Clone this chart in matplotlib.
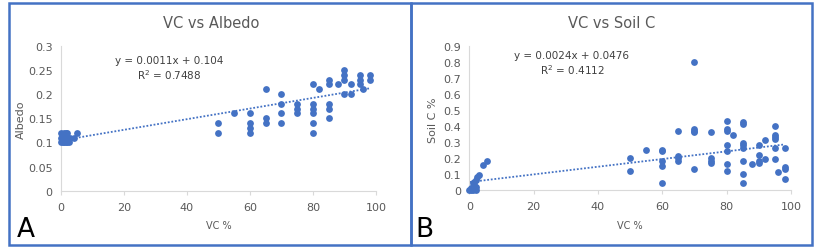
import numpy as np
import matplotlib.pyplot as plt
from matplotlib.patches import Rectangle

# Panel A: VC % vs Albedo
vc_a = [0, 0, 0, 0.5, 0.5, 1, 1, 1, 1.5, 1.5, 2, 2, 2, 2.5, 3, 4, 5,
        50, 50, 55, 60, 60, 60, 60, 65, 65, 65, 70, 70, 70, 70,
        75, 75, 75, 80, 80, 80, 80, 80, 80, 82, 85, 85, 85, 85, 85, 88,
        90, 90, 90, 90, 92, 92, 95, 95, 95, 96, 98, 98]
albedo = [0.10, 0.11, 0.12, 0.10, 0.115, 0.10, 0.11, 0.12, 0.10, 0.12, 0.10, 0.11, 0.12, 0.10, 0.11, 0.11, 0.12,
          0.14, 0.12, 0.16, 0.16, 0.14, 0.13, 0.12, 0.21, 0.15, 0.14, 0.20, 0.18, 0.16, 0.14,
          0.18, 0.17, 0.16, 0.22, 0.18, 0.17, 0.16, 0.14, 0.12, 0.21, 0.23, 0.22, 0.18, 0.17, 0.15, 0.22,
          0.25, 0.24, 0.23, 0.20, 0.22, 0.20, 0.24, 0.23, 0.22, 0.21, 0.24, 0.23]
slope_a, icpt_a = 0.0011, 0.104

# Panel B: VC % vs Soil C %
vc_b = [0, 0.5, 0.5, 1, 1, 1, 1.5, 1.5, 2, 2, 2, 2.5, 3, 4.4, 5.4,
        50, 50, 55, 60, 60, 60, 60, 60, 65, 65, 65, 65,
        70, 70, 70, 70, 70, 75, 75, 75, 75,
        80, 80, 80, 80, 80, 80, 80, 82,
        85, 85, 85, 85, 85, 85, 85, 85, 88,
        90, 90, 90, 90, 92, 92,
        95, 95, 95, 95, 95, 95, 96, 98, 98, 98, 98]
soil_c = [0.0, 0.01, 0.0, 0.0, 0.02, 0.04, 0.03, 0.05, 0.06, 0.0, 0.02, 0.08, 0.09, 0.155, 0.177,
          0.20, 0.12, 0.25, 0.25, 0.24, 0.18, 0.15, 0.04, 0.37, 0.21, 0.20, 0.18,
          0.80, 0.38, 0.37, 0.36, 0.13, 0.36, 0.20, 0.18, 0.17,
          0.43, 0.38, 0.37, 0.28, 0.24, 0.16, 0.12, 0.34,
          0.42, 0.41, 0.29, 0.28, 0.26, 0.18, 0.10, 0.04, 0.16,
          0.28, 0.22, 0.18, 0.17, 0.31, 0.19,
          0.40, 0.34, 0.33, 0.32, 0.26, 0.19, 0.11, 0.26, 0.14, 0.13, 0.07]
slope_b, icpt_b = 0.0024, 0.0476

blue = '#4472C4'
gray_txt = '#595959'
axis_col = '#d9d9d9'

fig = plt.figure(figsize=(8.2, 2.51), dpi=100)

# panel frames
for x0, x1 in [(9, 411.5), (411.5, 812)]:
    fig.patches.append(Rectangle((x0 / 820, 1 - 245.5 / 251), (x1 - x0) / 820, (245.5 - 4) / 251,
                                 transform=fig.transFigure, fill=False, edgecolor=blue, lw=1.8))


def panel(rect, x, y, slope, icpt, ymax, ystep, title, ylabel, eq, r2, eq_pos, title_x, ylab_x):
    ax = fig.add_axes(rect)
    ax.scatter(x, y, s=24, color=blue, zorder=3, linewidths=0, clip_on=False)
    xs = np.array([0, 98])
    ax.plot(xs, slope * xs + icpt, color=blue, ls=(0, (1, 1)), lw=1.3, zorder=2)
    ax.set_xlim(0, 100)
    ax.set_ylim(0, ymax)
    ax.set_xticks(np.arange(0, 101, 20))
    yt = np.round(np.arange(0, ymax + 1e-9, ystep), 2)
    ax.set_yticks(yt)
    ax.set_yticklabels(['0' if v == 0 else f'{v:g}' for v in yt])
    for s in ['top', 'right']:
        ax.spines[s].set_visible(False)
    for s in ['left', 'bottom']:
        ax.spines[s].set_color(axis_col)
        ax.spines[s].set_linewidth(0.8)
    ax.tick_params(axis='both', colors=axis_col, labelcolor=gray_txt, labelsize=8, length=3, width=0.8)
    ax.tick_params(axis='y', length=0, pad=6)
    ax.tick_params(axis='x', pad=5)
    fig.text(title_x / 820, 1 - 23 / 251, title, ha='center', va='center', fontsize=10.5, color=gray_txt)
    fig.text(eq_pos[0] / 820, 1 - eq_pos[1] / 251, eq, ha='center', va='center', fontsize=7.5, color='#404040')
    fig.text(eq_pos[0] / 820, 1 - (eq_pos[1] + 14.5) / 251, r2, ha='center', va='center', fontsize=7.5, color='#404040')
    fig.text(ylab_x / 820, 1 - 120 / 251, ylabel, ha='center', va='center', rotation=90, fontsize=8, color=gray_txt)
    fig.text(rect[0] + rect[2] / 2, 1 - 226 / 251, 'VC %', ha='center', va='center', fontsize=7, color=gray_txt)
    return ax


axA = panel([61 / 820, 1 - 191.7 / 251, 315 / 820, 145 / 251], vc_a, albedo, slope_a, icpt_a, 0.3, 0.05,
            'VC vs Albedo', 'Albedo', 'y = 0.0011x + 0.104', 'R$^{2}$ = 0.7488', (169, 61), 211, 21)
axB = panel([469.3 / 820, 1 - 190.7 / 251, 321.7 / 820, 144 / 251], vc_b, soil_c, slope_b, icpt_b, 0.9, 0.1,
            'VC vs Soil C', 'Soil C %', 'y = 0.0024x + 0.0476', 'R$^{2}$ = 0.4112', (572, 56), 612, 433)

fig.text(26 / 820, 1 - 230 / 251, 'A', ha='center', va='center', fontsize=19, color='black')
fig.text(424 / 820, 1 - 230 / 251, 'B', ha='center', va='center', fontsize=19, color='black')

fig.savefig('out.png', dpi=100)
